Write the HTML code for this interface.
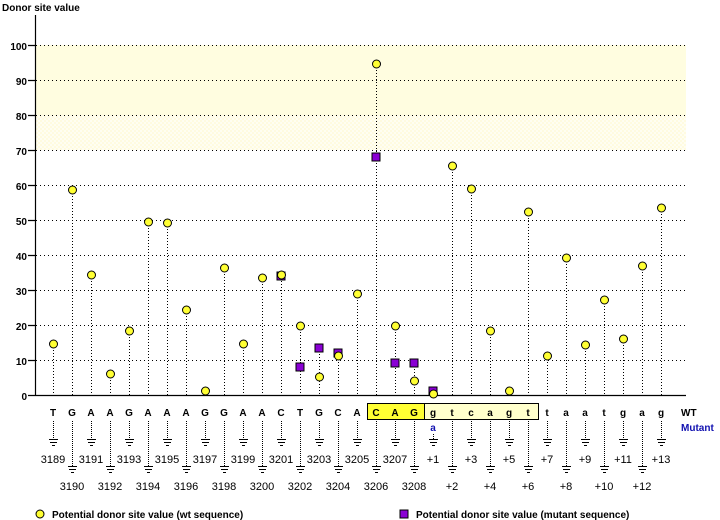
<!DOCTYPE html>
<html><head><meta charset="utf-8"><style>
html,body{margin:0;padding:0;background:#fff;}
svg{display:block;font-family:"Liberation Sans",sans-serif;}
.b{font-weight:bold;font-size:10px;}
.n{font-size:11px;}
</style></head><body>
<svg width="720" height="520" viewBox="0 0 720 520">
<defs>
<pattern id="chk" width="4" height="4" patternUnits="userSpaceOnUse">
<rect width="4" height="4" fill="#fffef2"/><rect width="2" height="2" fill="#fffbe0"/><rect x="2" y="2" width="2" height="2" fill="#fffbe0"/>
</pattern>
</defs>
<rect x="36" y="45" width="650" height="70" fill="#fffde0"/>
<rect x="36" y="115" width="650" height="35" fill="url(#chk)"/>
<text x="2" y="11" class="b">Donor site value</text>
<g stroke="#000" stroke-width="1" stroke-dasharray="1,3" fill="none">
<path d="M36 45.5H686M36 80.5H686M36 115.5H686M36 150.5H686M36 185.5H686M36 220.5H686M36 255.5H686M36 290.5H686M36 325.5H686M36 360.5H686"/>
</g>
<g stroke="#000" stroke-width="1.2" fill="none">
<path d="M35.5 15V395.5H686M28 45.5H35M28 80.5H35M28 115.5H35M28 150.5H35M28 185.5H35M28 220.5H35M28 255.5H35M28 290.5H35M28 325.5H35M28 360.5H35M28 395.5H35"/>
</g>
<g class="b" text-anchor="end" font-size="11">
<text x="27" y="50">100</text><text x="27" y="85">90</text><text x="27" y="120">80</text><text x="27" y="155">70</text><text x="27" y="190">60</text><text x="27" y="225">50</text><text x="27" y="260">40</text><text x="27" y="295">30</text><text x="27" y="330">20</text><text x="27" y="365">10</text><text x="27" y="400">0</text>
</g>
<g stroke="#000" stroke-width="1" stroke-dasharray="1,2" fill="none">
<path d="M53.5 344V395M72.5 190V395M91.5 275V395M110.5 374V395M129.5 331V395M148.5 222V395M167.5 223V395M186.5 310V395M205.5 391V395M224.5 268V395M243.5 344V395M262.5 278V395M281.5 275V395M300.5 326V395M319.5 348V395M338.5 353V395M357.5 294V395M376.5 64V395M395.5 326V395M414.5 363V395M433.5 391V395M452.5 166V395M471.5 189V395M490.5 331V395M509.5 391V395M528.5 212V395M547.5 356V395M566.5 258V395M585.5 345V395M604.5 300V395M623.5 339V395M642.5 266V395M661.5 208V395"/>
</g>
<g fill="#8a00d4" stroke="#000" stroke-width="1">
<rect x="277" y="272" width="8" height="8"/><rect x="296" y="363" width="8" height="8"/><rect x="315" y="344" width="8" height="8"/><rect x="334" y="349" width="8" height="8"/><rect x="372" y="153" width="8" height="8"/><rect x="391" y="359" width="8" height="8"/><rect x="410" y="359" width="8" height="8"/><rect x="429" y="387" width="8" height="8"/>
</g>
<g fill="#ffff33" stroke="#000" stroke-width="1">
<circle cx="53.5" cy="344" r="4"/><circle cx="72.5" cy="190" r="4"/><circle cx="91.5" cy="275" r="4"/><circle cx="110.5" cy="374" r="4"/><circle cx="129.5" cy="331" r="4"/><circle cx="148.5" cy="222" r="4"/><circle cx="167.5" cy="223" r="4"/><circle cx="186.5" cy="310" r="4"/><circle cx="205.5" cy="391" r="4"/><circle cx="224.5" cy="268" r="4"/><circle cx="243.5" cy="344" r="4"/><circle cx="262.5" cy="278" r="4"/><circle cx="281.5" cy="275" r="4"/><circle cx="300.5" cy="326" r="4"/><circle cx="319.5" cy="377" r="4"/><circle cx="338.5" cy="356" r="4"/><circle cx="357.5" cy="294" r="4"/><circle cx="376.5" cy="64" r="4"/><circle cx="395.5" cy="326" r="4"/><circle cx="414.5" cy="381" r="4"/><circle cx="433.5" cy="394" r="4"/><circle cx="452.5" cy="166" r="4"/><circle cx="471.5" cy="189" r="4"/><circle cx="490.5" cy="331" r="4"/><circle cx="509.5" cy="391" r="4"/><circle cx="528.5" cy="212" r="4"/><circle cx="547.5" cy="356" r="4"/><circle cx="566.5" cy="258" r="4"/><circle cx="585.5" cy="345" r="4"/><circle cx="604.5" cy="300" r="4"/><circle cx="623.5" cy="339" r="4"/><circle cx="642.5" cy="266" r="4"/><circle cx="661.5" cy="208" r="4"/>
</g>
<rect x="367.5" y="403.5" width="57" height="16" fill="#ffff33" stroke="#000"/>
<rect x="424.5" y="403.5" width="114" height="16" fill="#ffffcc" stroke="#000"/>
<g class="b" text-anchor="middle" font-size="11">
<text x="53" y="416">T</text><text x="72" y="416">G</text><text x="91" y="416">A</text><text x="110" y="416">A</text><text x="129" y="416">G</text><text x="148" y="416">A</text><text x="167" y="416">A</text><text x="186" y="416">A</text><text x="205" y="416">G</text><text x="224" y="416">G</text><text x="243" y="416">A</text><text x="262" y="416">A</text><text x="281" y="416">C</text><text x="300" y="416">T</text><text x="319" y="416">G</text><text x="338" y="416">C</text><text x="357" y="416">A</text><text x="376" y="416">C</text><text x="395" y="416">A</text><text x="414" y="416">G</text><text x="433" y="416">g</text><text x="452" y="416">t</text><text x="471" y="416">c</text><text x="490" y="416">a</text><text x="509" y="416">g</text><text x="528" y="416">t</text><text x="547" y="416">t</text><text x="566" y="416">a</text><text x="585" y="416">a</text><text x="604" y="416">t</text><text x="623" y="416">g</text><text x="642" y="416">a</text><text x="661" y="416">g</text>
<text x="433" y="431" fill="#1010b0">a</text>
</g>
<text x="681" y="416" class="b" font-size="11">WT</text>
<text x="681" y="431" class="b" font-size="11" fill="#1010b0">Mutant</text>
<g stroke="#000" stroke-width="1" stroke-dasharray="1,1" fill="none">
<path d="M53.5 421V439M91.5 421V439M129.5 421V439M167.5 421V439M205.5 421V439M243.5 421V439M281.5 421V439M319.5 421V439M357.5 421V439M395.5 421V439M433.5 434V439M471.5 421V439M509.5 421V439M547.5 421V439M585.5 421V439M623.5 421V439M661.5 421V439"/>
<path d="M72.5 421V466M110.5 421V466M148.5 421V466M186.5 421V466M224.5 421V466M262.5 421V466M300.5 421V466M338.5 421V466M376.5 421V466M414.5 421V466M452.5 421V466M490.5 421V466M528.5 421V466M566.5 421V466M604.5 421V466M642.5 421V466"/>
</g>
<g stroke="#000" stroke-width="1" fill="none">
<path d="M49 439.5h9M50 442.5h7M52 445.5h3M87 439.5h9M88 442.5h7M90 445.5h3M125 439.5h9M126 442.5h7M128 445.5h3M163 439.5h9M164 442.5h7M166 445.5h3M201 439.5h9M202 442.5h7M204 445.5h3M239 439.5h9M240 442.5h7M242 445.5h3M277 439.5h9M278 442.5h7M280 445.5h3M315 439.5h9M316 442.5h7M318 445.5h3M353 439.5h9M354 442.5h7M356 445.5h3M391 439.5h9M392 442.5h7M394 445.5h3M429 439.5h9M430 442.5h7M432 445.5h3M467 439.5h9M468 442.5h7M470 445.5h3M505 439.5h9M506 442.5h7M508 445.5h3M543 439.5h9M544 442.5h7M546 445.5h3M581 439.5h9M582 442.5h7M584 445.5h3M619 439.5h9M620 442.5h7M622 445.5h3M657 439.5h9M658 442.5h7M660 445.5h3"/>
<path d="M68 466.5h9M69 469.5h7M71 472.5h3M106 466.5h9M107 469.5h7M109 472.5h3M144 466.5h9M145 469.5h7M147 472.5h3M182 466.5h9M183 469.5h7M185 472.5h3M220 466.5h9M221 469.5h7M223 472.5h3M258 466.5h9M259 469.5h7M261 472.5h3M296 466.5h9M297 469.5h7M299 472.5h3M334 466.5h9M335 469.5h7M337 472.5h3M372 466.5h9M373 469.5h7M375 472.5h3M410 466.5h9M411 469.5h7M413 472.5h3M448 466.5h9M449 469.5h7M451 472.5h3M486 466.5h9M487 469.5h7M489 472.5h3M524 466.5h9M525 469.5h7M527 472.5h3M562 466.5h9M563 469.5h7M565 472.5h3M600 466.5h9M601 469.5h7M603 472.5h3M638 466.5h9M639 469.5h7M641 472.5h3"/>
</g>
<g class="n" text-anchor="middle">
<text x="53" y="463">3189</text><text x="91" y="463">3191</text><text x="129" y="463">3193</text><text x="167" y="463">3195</text><text x="205" y="463">3197</text><text x="243" y="463">3199</text><text x="281" y="463">3201</text><text x="319" y="463">3203</text><text x="357" y="463">3205</text><text x="395" y="463">3207</text><text x="433" y="463">+1</text><text x="471" y="463">+3</text><text x="509" y="463">+5</text><text x="547" y="463">+7</text><text x="585" y="463">+9</text><text x="623" y="463">+11</text><text x="661" y="463">+13</text>
<text x="72" y="490">3190</text><text x="110" y="490">3192</text><text x="148" y="490">3194</text><text x="186" y="490">3196</text><text x="224" y="490">3198</text><text x="262" y="490">3200</text><text x="300" y="490">3202</text><text x="338" y="490">3204</text><text x="376" y="490">3206</text><text x="414" y="490">3208</text><text x="452" y="490">+2</text><text x="490" y="490">+4</text><text x="528" y="490">+6</text><text x="566" y="490">+8</text><text x="604" y="490">+10</text><text x="642" y="490">+12</text>
</g>
<circle cx="40" cy="514" r="4" fill="#ffff33" stroke="#000"/>
<text x="52" y="518" class="b">Potential donor site value (wt sequence)</text>
<rect x="400" y="510" width="8" height="8" fill="#8a00d4" stroke="#000"/>
<text x="416" y="518" class="b">Potential donor site value (mutant sequence)</text>
</svg>
</body></html>
